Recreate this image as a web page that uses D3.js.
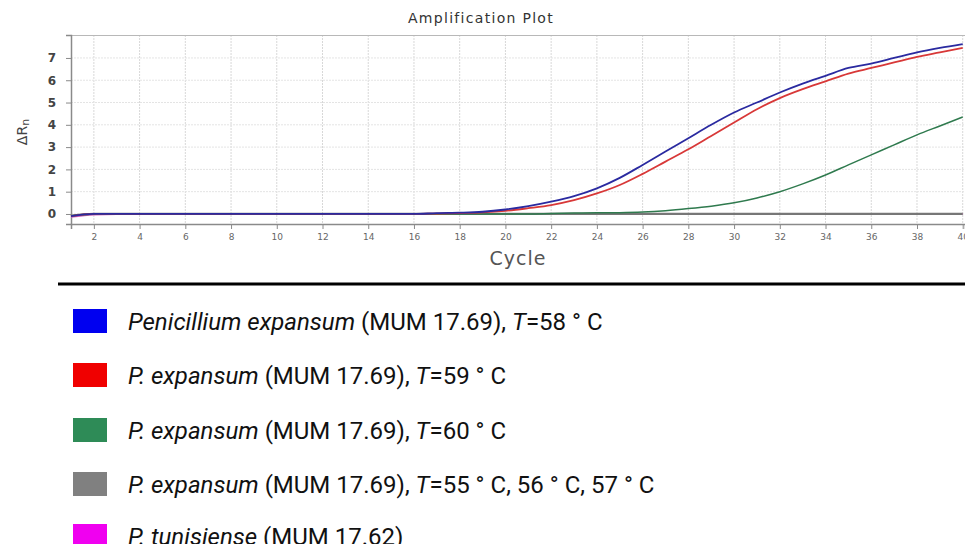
<!DOCTYPE html>
<html>
<head>
<meta charset="utf-8">
<script src="https://cdn.jsdelivr.net/npm/d3@7"></script>
<style>
  html, body { margin: 0; padding: 0; background: #fff; }
  svg { display: block; }
</style>
</head>
<body>
<svg id="chart" width="965" height="544"></svg>
<script>
// ---- data ----
const cycles = d3.range(1, 41);
const blueVals = [-0.1,0,0,0,0,0,0,0,0,0,0,0,0,0,0,0,0.04,0.06,0.1,0.2,0.35,0.55,0.8,1.15,1.62,2.2,2.8,3.4,4.0,4.55,5.0,5.45,5.85,6.2,6.55,6.75,7.0,7.25,7.45,7.62];
const redVals  = [-0.1,0,0,0,0,0,0,0,0,0,0,0,0,0,0,0,0.02,0.04,0.07,0.14,0.26,0.4,0.62,0.92,1.3,1.8,2.35,2.9,3.5,4.1,4.7,5.2,5.6,5.95,6.3,6.55,6.8,7.05,7.25,7.45];
const greenVals= [-0.08,0,0,0,0,0,0,0,0,0,0,0,0,0,0,0,0,0,0,0,0,0.02,0.04,0.05,0.06,0.09,0.15,0.24,0.35,0.5,0.72,1.0,1.35,1.75,2.2,2.65,3.1,3.55,3.95,4.35];
const grayVals = [-0.08,0,0,0,0,0,0,0,0,0,0,0,0,0,0,0,0,0,0,0,0,0,0,0,0,0,0,0,0,0,0,0,0,0,0,0,0,0,0,0];
const magentaVals = [-0.13,-0.02,0,0,0,0,0,0,0,0,0,0,0,0,0,0,0,0,0,0,0,0,0,0,0,0,0,0,0,0,0,0,0,0,0,0,0,0,0,0];
const xTickVals = d3.range(2, 41, 2);
const yTickVals = d3.range(0, 8);
const legendLabels = [
  [["Penicillium expansum", true], [" (MUM 17.69),  ", false], ["T", true], ["=58 ° C", false]],
  [["P. expansum", true], [" (MUM 17.69),  ", false], ["T", true], ["=59 ° C", false]],
  [["P. expansum", true], [" (MUM 17.69),  ", false], ["T", true], ["=60 ° C", false]],
  [["P. expansum", true], [" (MUM 17.69),  ", false], ["T", true], ["=55 ° C, 56 ° C, 57 ° C", false]],
  [["P. tunisiense", true], [" (MUM 17.62)", false]]
];
const legendColors = ["#0000f0", "#f00000", "#2e8b57", "#808080", "#f000f0"];

// ---- layout ----
const svg = d3.select("#chart");
const L = 71, R = 965, T = 35, B = 224;
const x = d3.scaleLinear().domain([1, 40.1]).range([L, R]);
const y = d3.scaleLinear().domain([-0.45, 8.03]).range([B, T]);

// grid
const grid = svg.append("g");
grid.selectAll("line.v").data(xTickVals).join("line")
  .attr("x1", d => x(d)).attr("x2", d => x(d)).attr("y1", T).attr("y2", B)
  .attr("stroke", "#d8d8d8").attr("stroke-width", 1).attr("stroke-dasharray", "2,1");
grid.selectAll("line.h").data(yTickVals).join("line")
  .attr("x1", L).attr("x2", R).attr("y1", d => y(d)).attr("y2", d => y(d))
  .attr("stroke", "#e4e4e4").attr("stroke-width", 1).attr("stroke-dasharray", "2,1");

// top border
svg.append("line").attr("x1", L).attr("x2", R).attr("y1", T + 0.5).attr("y2", T + 0.5)
  .attr("stroke", "#b8b8b8").attr("stroke-width", 1);

// axes
const yAxis = d3.axisLeft(y).tickValues(yTickVals).tickSize(5).tickPadding(10).tickFormat(d3.format("d"));
const gy = svg.append("g").attr("transform", `translate(${L},0)`).call(yAxis);
gy.select(".domain").attr("stroke", "#8a8a8a").attr("stroke-width", 1.5);
gy.selectAll(".tick line").attr("stroke", "#8a8a8a");
gy.selectAll(".tick text").attr("fill", "#444").attr("font-family", "DejaVu Sans, sans-serif")
  .attr("font-size", 12).attr("font-weight", "bold");

const xAxis = d3.axisBottom(x).tickValues(xTickVals).tickSize(5).tickPadding(5);
const gx = svg.append("g").attr("transform", `translate(0,${B})`).call(xAxis);
gx.select(".domain").attr("stroke", "#8a8a8a").attr("stroke-width", 1.5);
gx.selectAll(".tick line").attr("stroke", "#8a8a8a");
gx.selectAll(".tick text").attr("fill", "#666").attr("font-family", "DejaVu Sans, sans-serif")
  .attr("font-size", 9);

// series lines
const line = d3.line().x((d, i) => x(cycles[i])).y(d => y(d)).curve(d3.curveMonotoneX);
const series = [
  { vals: magentaVals, color: "#d060c0", w: 2 },
  { vals: grayVals, color: "#777777", w: 2.2 },
  { vals: greenVals, color: "#2f7a4e", w: 1.5 },
  { vals: redVals, color: "#d83838", w: 1.8 },
  { vals: blueVals, color: "#2a2aa0", w: 1.8 }
];
svg.append("g").selectAll("path").data(series).join("path")
  .attr("d", d => line(d.vals))
  .attr("fill", "none").attr("stroke", d => d.color).attr("stroke-width", d => d.w);

// title and axis labels
svg.append("text").attr("x", 481).attr("y", 23).attr("text-anchor", "middle")
  .attr("font-family", "DejaVu Sans, sans-serif").attr("font-size", 14).attr("fill", "#333")
  .attr("letter-spacing", 1.3).text("Amplification Plot");
svg.append("text").attr("x", 518).attr("y", 265).attr("text-anchor", "middle")
  .attr("font-family", "DejaVu Sans, sans-serif").attr("font-size", 19).attr("fill", "#555")
  .attr("letter-spacing", 1).text("Cycle");
const yl = svg.append("text").attr("transform", "translate(27,132) rotate(-90)")
  .attr("text-anchor", "middle").attr("font-family", "DejaVu Sans, sans-serif")
  .attr("font-size", 14).attr("fill", "#444");
yl.append("tspan").text("ΔR");
yl.append("tspan").attr("font-size", 11).attr("dy", 2).text("n");

// separator
svg.append("line").attr("x1", 58).attr("x2", 965).attr("y1", 284).attr("y2", 284)
  .attr("stroke", "#000").attr("stroke-width", 3);

// legend
const rowY = [321, 375, 430, 484, 536];
const lg = svg.append("g");
legendLabels.forEach((parts, i) => {
  lg.append("rect").attr("x", 73).attr("y", rowY[i] - 12).attr("width", 34).attr("height", 24)
    .attr("fill", legendColors[i]);
  const t = lg.append("text").attr("x", 128).attr("y", rowY[i] + 8.5)
    .attr("font-family", "Roboto, sans-serif").attr("font-size", 24).attr("fill", "#111");
  parts.forEach(p => t.append("tspan").attr("font-style", p[1] ? "italic" : "normal").text(p[0]));
});
</script>
</body>
</html>
